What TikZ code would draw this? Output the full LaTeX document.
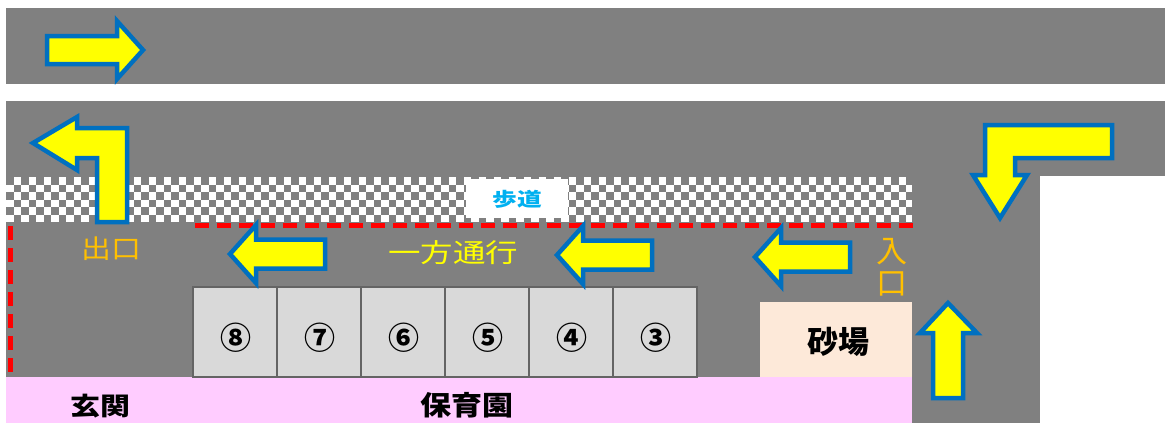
\documentclass[tikz,border=0pt]{standalone}
\usepackage{fontspec}
\setmainfont{Noto Sans CJK JP}
\newcommand{\wideby}[2]{\scalebox{#1}[1]{#2}}
\definecolor{roadgray}{RGB}{128,128,128}
\definecolor{lotline}{RGB}{100,100,100}
\definecolor{arrowblue}{RGB}{0,112,192}
\definecolor{arrowyellow}{RGB}{255,255,0}
\definecolor{exitorange}{RGB}{255,192,0}
\definecolor{walkblue}{RGB}{0,176,240}
\definecolor{pinkbld}{RGB}{255,204,255}
\definecolor{sandpeach}{RGB}{253,233,217}
\definecolor{lotgray}{RGB}{217,217,217}
\definecolor{redline}{RGB}{255,0,0}
\tikzset{
  road/.style={fill=roadgray},
  arrowst/.style={fill=arrowyellow, draw=arrowblue, line width=4.5pt, line join=miter},
  lot/.style={fill=lotgray, draw=lotline, line width=1.3pt, minimum width=84pt, minimum height=90pt, inner sep=0pt},
  boundary/.style={draw=redline, line width=5pt, dash pattern=on 14pt off 8pt},
  lbl/.style={inner sep=0pt, anchor=center},
}
\begin{document}
\begin{tikzpicture}[x=1pt,y=-1pt]
\useasboundingbox (0,0) rectangle (1165,423);
\fill[white] (0,0) rectangle (1165,423);
% roads
\fill[road] (6,8) rectangle (1165,176);
\fill[white] (6,84) rectangle (1165,101);
\fill[road] (6,176) rectangle (1040,423);
% sidewalk checker
\begin{scope}
\clip (6,177) rectangle (912,222);
\fill[white] (6,177) rectangle (912,222);
\foreach \j in {0,...,5}{
  \pgfmathtruncatemacro\off{mod(\j,2)}
  \foreach \i in {0,2,...,120}{
    \fill[road] ({6+(\i+\off)*7.5},{177+\j*7.5}) rectangle +(7.5,7.5);
  }
}
\end{scope}
\node[fill=white, minimum width=102pt, minimum height=39pt, inner sep=0pt] (walkbox) at (517,198.5) {};
\node[lbl, text=walkblue, font=\fontsize{19}{19}\selectfont\bfseries] (walk) at (517,199) {\wideby{1.3}{歩道}};
% nursery building
\fill[pinkbld] (6,377) rectangle (912,423);
\node[lbl, font=\fontsize{25}{25}\selectfont\bfseries] (genkan) at (100,406) {\wideby{1.2}{玄関}};
\node[lbl, font=\fontsize{27}{27}\selectfont\bfseries] (hoikuen) at (467,405) {\wideby{1.15}{保育園}};
% sandbox
\node[fill=sandpeach, minimum width=152pt, minimum height=75pt, inner sep=0pt] (sand) at (836,339.5) {};
\node[lbl, font=\fontsize{31}{31}\selectfont\bfseries] (sandtxt) at (838,342) {砂場};
% parking spaces
\foreach \n [count=\k from 0] in {⑧,⑦,⑥,⑤,④,③}{
  \node[lot] (lot\k) at ({235+84*\k},332) {};
  \node[lbl, font=\fontsize{31}{31}\selectfont\bfseries] (num\k) at ({236+84*\k},338) {\n};
}
% boundary
\coordinate (bTL) at (195,225);
\coordinate (bTR) at (918,225);
\coordinate (bLT) at (10,226);
\coordinate (bLB) at (10,375);
\draw[boundary] (bTL) -- (bTR);
\draw[boundary] (bLT) -- (bLB);
% labels
\node[lbl, text=exitorange, font=\fontsize{26}{26}\selectfont] (exitlbl) at (111,249) {\wideby{1.15}{出口}};
\node[lbl, text=arrowyellow, font=\fontsize{26}{26}\selectfont] (oneway) at (453,253) {\wideby{1.25}{一方通行}};
\node[lbl, text=exitorange, font=\fontsize{31}{31}\selectfont] (ent1) at (892,252) {入};
\node[lbl, text=exitorange, font=\fontsize{31}{31}\selectfont] (ent2) at (892,284) {口};
% arrows
\draw[arrowst] (47,36) -- (117,36) -- (117,21) -- (143,50) -- (117,79) -- (117,64) -- (47,64) -- cycle;
\draw[arrowst] (97,222) -- (127,222) -- (127,128) -- (77,128) -- (77,117) -- (33,143) -- (77,170) -- (77,158) -- (97,158) -- cycle;
\draw[arrowst] (1112,125) -- (985,125) -- (985,175) -- (973,175) -- (1000,218) -- (1027,175) -- (1015,175) -- (1015,158) -- (1112,158) -- cycle;
\draw[arrowst] (933,398) -- (933,333) -- (920,333) -- (948,303) -- (977,333) -- (963,333) -- (963,398) -- cycle;
\foreach \tip/\cy in {230/254, 557/255, 755/257}{
  \draw[arrowst] (\tip,\cy) -- (\tip+26,\cy-29) -- (\tip+26,\cy-14.5) -- (\tip+95,\cy-14.5) -- (\tip+95,\cy+14.5) -- (\tip+26,\cy+14.5) -- (\tip+26,\cy+29) -- cycle;
}
\end{tikzpicture}
\end{document}
